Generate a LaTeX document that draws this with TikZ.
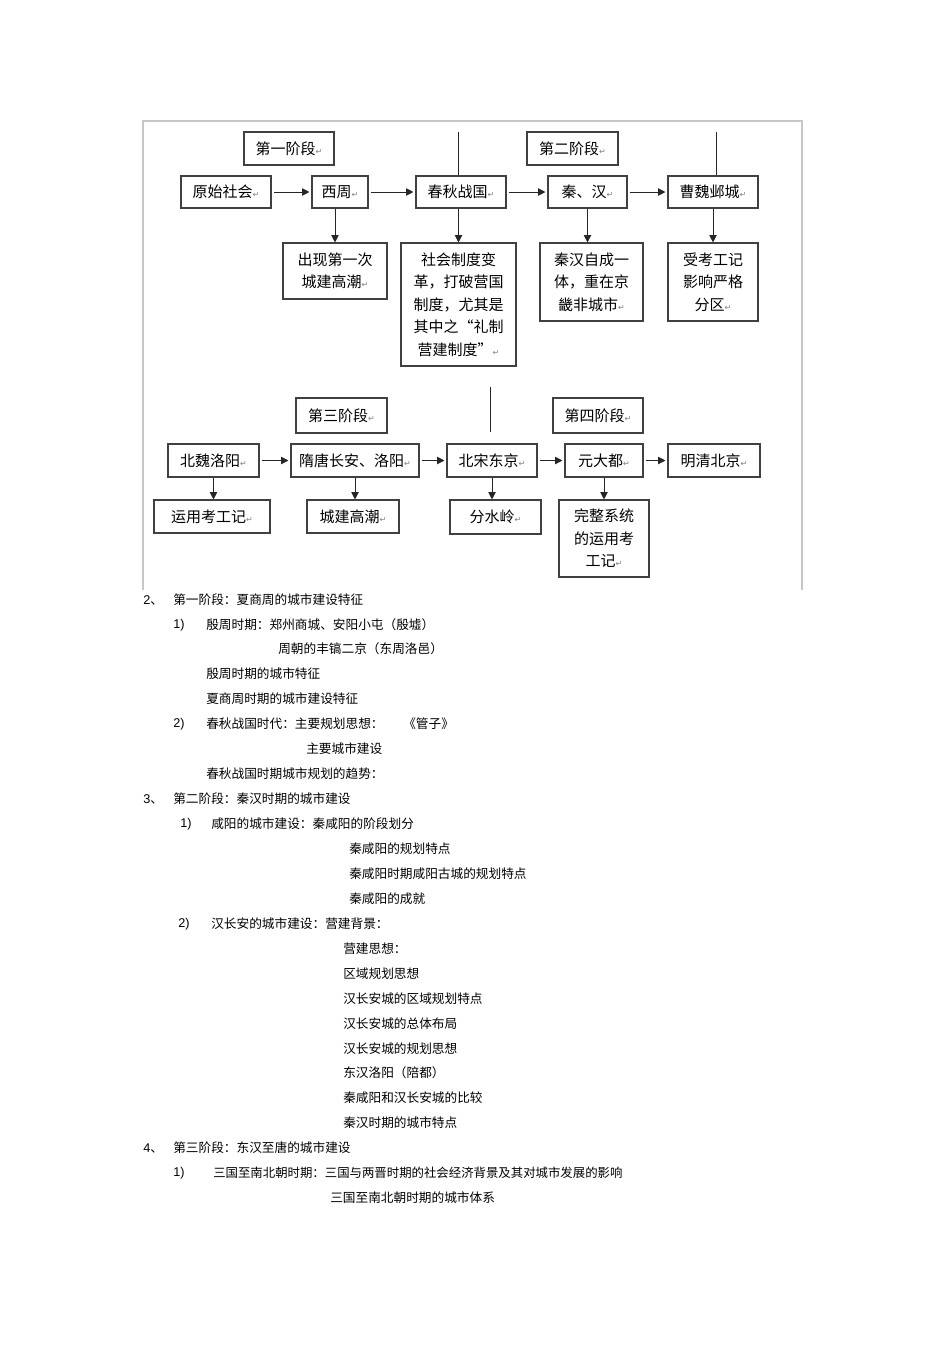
\documentclass[tikz,border=0pt]{standalone}
\usepackage{fontspec}
\setmainfont{Noto Sans CJK SC}
\newfontfamily\cjkf{Noto Sans CJK SC}
\newfontfamily\lat{Liberation Sans}
\newfontfamily\dv{DejaVu Sans}
\usetikzlibrary{arrows.meta}
\newcommand{\pmark}{{\color{black!50}\dv\fontsize{6pt}{6pt}\selectfont ↵}}
\tikzset{
  box/.style={draw=black!75, line width=0.8pt, inner sep=0pt, align=center,
    font=\fontsize{11.25pt}{16.9pt}\selectfont},
  sz/.style 2 args={minimum width=#1*0.75pt, minimum height=#2*0.75pt},
  arr/.style={-{Triangle[length=5.5pt,width=5.5pt]}, line width=0.75pt, draw=black!85},
  harr/.style={arr, shorten <=1.5pt, shorten >=1.5pt},
  plain/.style={line width=0.75pt, draw=black!85},
  body/.style={anchor=west, inner sep=0pt, font=\fontsize{9.5pt}{11pt}\selectfont},
  num/.style={anchor=west, inner sep=0pt, font=\lat\fontsize{9.5pt}{11pt}\selectfont},
}
\begin{document}
\begin{tikzpicture}[x=0.75pt,y=-0.75pt]
\useasboundingbox (0,0) rectangle (950,1345);
% frame
\coordinate (fl) at (143,590);
\coordinate (fr) at (802,590);
\draw[black!22, line width=0.8pt] (fl) |- (802,121) -- (fr);

% ---- top part ----
\node[box, sz={90}{33}] (s1) at (289,148.5) {第一阶段\pmark};
\node[box, sz={91}{33}] (s2) at (572.5,148.5) {第二阶段\pmark};
\node[box, sz={90}{32}] (yuan) at (226,192) {原始社会\pmark};
\node[box, sz={56}{32}] (xizhou) at (340,192) {西周\pmark};
\node[box, sz={90}{32}] (chunqiu) at (461,192) {春秋战国\pmark};
\node[box, sz={79}{32}] (qinhan) at (587.5,192) {秦、汉\pmark};
\node[box, sz={90}{32}] (caowei) at (713,192) {曹魏邺城\pmark};

\node[box, sz={104}{56}] (c1) at (335,271) {出现第一次\\城建高潮\pmark};
\node[box, sz={115}{123}] (c2) at (458.5,304.5) {社会制度变\\革，打破营国\\制度，尤其是\\其中之“礼制\\营建制度”\pmark};
\node[box, sz={103}{78}] (c3) at (591.5,282) {秦汉自成一\\体，重在京\\畿非城市\pmark};
\node[box, sz={90}{78}] (c4) at (713,282) {受考工记\\影响严格\\分区\pmark};

\coordinate (v1) at (458,132);
\coordinate (v2) at (716,132);
\draw[plain] (v1) -- (v1 |- chunqiu.north);
\draw[plain] (v2) -- (v2 |- caowei.north);

\draw[harr] (yuan) -- (xizhou);
\draw[harr] (xizhou) -- (chunqiu);
\draw[harr] (chunqiu) -- (qinhan);
\draw[harr] (qinhan) -- (caowei);

\draw[arr] (c1.north |- xizhou.south) -- (c1.north);
\draw[arr] (chunqiu.south -| c2.north) -- (c2.north);
\draw[arr] (qinhan.south) -- (qinhan.south |- c3.north);
\draw[arr] (c4.north |- caowei.south) -- (c4.north);

% ---- lower part ----
\node[box, sz={91}{35}] (s3) at (341.5,415.5) {第三阶段\pmark};
\node[box, sz={90}{35}] (s4) at (598,415.5) {第四阶段\pmark};
\node[box, sz={91}{33}] (beiwei) at (213.5,460.5) {北魏洛阳\pmark};
\node[box, sz={128}{33}] (suitang) at (355,460.5) {隋唐长安、洛阳\pmark};
\node[box, sz={90}{33}] (beisong) at (492,460.5) {北宋东京\pmark};
\node[box, sz={78}{33}] (yuandadu) at (604,460.5) {元大都\pmark};
\node[box, sz={92}{33}] (mingqing) at (714,460.5) {明清北京\pmark};

\node[box, sz={116}{33}] (d1) at (212,516.5) {运用考工记\pmark};
\node[box, sz={92}{33}] (d2) at (353,516.5) {城建高潮\pmark};
\node[box, sz={91}{34}] (d3) at (495.5,517) {分水岭\pmark};
\node[box, sz={90}{77}] (d4) at (604,538.5) {完整系统\\的运用考\\工记\pmark};

\coordinate (v3a) at (490,387);
\coordinate (v3b) at (490,432);
\draw[plain] (v3a) -- (v3b);

\draw[harr] (beiwei) -- (suitang);
\draw[harr] (suitang) -- (beisong);
\draw[harr] (beisong) -- (yuandadu);
\draw[harr] (yuandadu) -- (mingqing);

\draw[arr] (beiwei.south) -- (beiwei.south |- d1.north);
\draw[arr] (suitang.south) -- (suitang.south |- d2.north);
\draw[arr] (beisong.south) -- (beisong.south |- d3.north);
\draw[arr] (yuandadu.south) -- (yuandadu.south |- d4.north);

% ---- text below ----
\node[num] (n2) at (143,600) {2{\cjkf 、}};
\node[body] (t1) at (173,600) {第一阶段：夏商周的城市建设特征};
\node[num] (n21) at (173,625) {1)};
\node[body] (t2) at (206,625) {殷周时期：郑州商城、安阳小屯（殷墟）};
\node[body] (t3) at (278,649) {周朝的丰镐二京（东周洛邑）};
\node[body] (t4) at (206,674) {殷周时期的城市特征};
\node[body] (t5) at (206,699) {夏商周时期的城市建设特征};
\node[num] (n22) at (173,724) {2)};
\node[body] (t6) at (206,724) {春秋战国时代：主要规划思想：};
\node[body] (t6b) at (403,724) {《管子》};
\node[body] (t7) at (306,749) {主要城市建设};
\node[body] (t8) at (206,774) {春秋战国时期城市规划的趋势：};

\node[num] (n3) at (143,799) {3{\cjkf 、}};
\node[body] (t9) at (173,799) {第二阶段：秦汉时期的城市建设};
\node[num] (n31) at (180,824) {1)};
\node[body] (t10) at (211,824) {咸阳的城市建设：秦咸阳的阶段划分};
\node[body] (t11) at (349,849) {秦咸阳的规划特点};
\node[body] (t12) at (349,874) {秦咸阳时期咸阳古城的规划特点};
\node[body] (t13) at (349,899) {秦咸阳的成就};
\node[num] (n32) at (178,924) {2)};
\node[body] (t14) at (211,924) {汉长安的城市建设：营建背景：};
\node[body] (t15) at (343,949) {营建思想：};
\node[body] (t16) at (343,974) {区域规划思想};
\node[body] (t17) at (343,999) {汉长安城的区域规划特点};
\node[body] (t18) at (343,1024) {汉长安城的总体布局};
\node[body] (t19) at (343,1049) {汉长安城的规划思想};
\node[body] (t20) at (343,1073) {东汉洛阳（陪都）};
\node[body] (t21) at (343,1098) {秦咸阳和汉长安城的比较};
\node[body] (t22) at (343,1123) {秦汉时期的城市特点};

\node[num] (n4) at (143,1148) {4{\cjkf 、}};
\node[body] (t23) at (173,1148) {第三阶段：东汉至唐的城市建设};
\node[num] (n41) at (173,1173) {1)};
\node[body, font=\fontsize{9.3pt}{11pt}\selectfont] (t24) at (213,1173) {三国至南北朝时期：三国与两晋时期的社会经济背景及其对城市发展的影响};
\node[body] (t25) at (330,1198) {三国至南北朝时期的城市体系};
\end{tikzpicture}
\end{document}
